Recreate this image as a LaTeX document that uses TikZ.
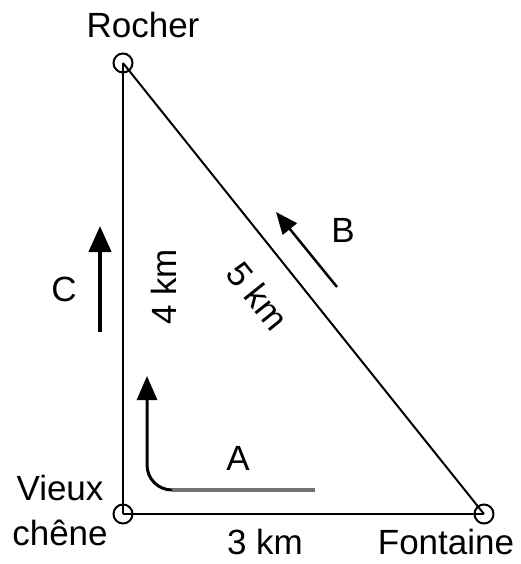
\documentclass[tikz,border=0pt]{standalone}
\usepackage{fontspec}
\setmainfont{Liberation Sans}
\usetikzlibrary{arrows.meta}
\begin{document}
\begin{tikzpicture}[x=1pt,y=-1pt,
  lbl/.style={font=\fontsize{35}{45}\selectfont, inner sep=0pt},
  pt/.style={circle, draw, line width=2pt, minimum size=19pt, inner sep=0pt},
  side/.style={line width=2.6pt},
  dirarrow/.style={line width=3pt, -{Triangle[width=20pt,length=24pt]}}]
\useasboundingbox (0,0) rectangle (520,564);
\node[pt] (R) at (123,63) {};
\node[pt] (V) at (123,514) {};
\node[pt] (F) at (484,514) {};
\draw[side] (R.center) -- (V.center);
\draw[side] (V.center) -- (F.center);
\draw[line width=2pt] (R.center) -- (F.center);
\node[lbl, anchor=base] (tR) at (143,38) {Rocher};
\node[lbl, align=center] (tV) at (60,510) {Vieux\\chêne};
\node[lbl, anchor=base] (tF) at (446,554) {Fontaine};
\node[lbl, anchor=base] (t3) at (265,554) {3 km};
\node[lbl, rotate=90] (t4) at (164,287) {4 km};
\node[lbl, rotate=-51.3] (t5) at (258,296) {5 km};
\node[lbl] (tC) at (64,289) {C};
\node[lbl] (tB) at (343,230) {B};
\node[lbl] (tA) at (238,458) {A};
\coordinate (c0) at (100,332);
\coordinate (c1) at (100,226);
\draw[line width=4.5pt, -{Triangle[width=22pt,length=26pt]}] (c0) -- (c1);
\coordinate (b0) at (337,287);
\coordinate (b1) at (276,212);
\draw[line width=2.5pt, -{Triangle[width=18pt,length=22pt]}] (b0) -- (b1);
\coordinate (a0) at (315,490);
\coordinate (a1) at (172,490);
\coordinate (ac) at (147,490);
\coordinate (a2) at (147,376);
\draw[line width=3.5pt, black!55] (a0) -- (a1);
\draw[dirarrow, rounded corners=25pt] (a1) -- (ac) -- (a2);
\end{tikzpicture}
\end{document}
